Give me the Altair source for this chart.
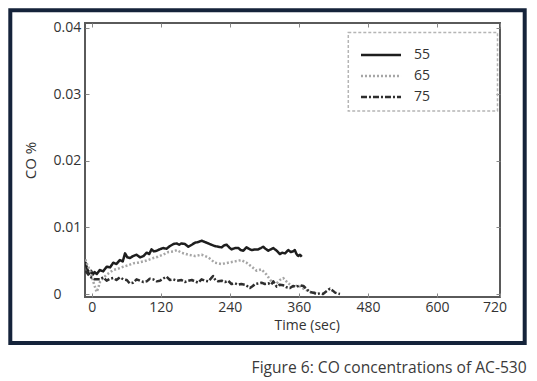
import altair as alt
import pandas as pd

# ---- data ----
series_names = ["55", "65", "75"]

t55 = [-11, -10, -7, -4, -1, 2, 5, 9, 14, 20, 26, 32, 37.5, 43, 49, 54, 58, 62, 66.5, 72,
       78, 84, 90, 95.6, 100, 104, 108, 113, 118, 124, 130, 136, 142, 147.7, 152, 156, 162, 168, 174, 179.5,
       185, 191, 197, 202.6, 208, 214, 220, 226, 230, 234.6, 239, 243, 249, 255, 259, 263.5, 269, 273, 278, 284,
       289.5, 294, 298, 302, 307, 311, 315.6, 321.5, 327, 331, 336, 341.7, 346, 350, 353, 356, 359, 362, 365]
v55 = [0.0048, 0.0044, 0.0036, 0.0031, 0.0035, 0.0029, 0.0033, 0.0030, 0.0036, 0.0034,
       0.0041, 0.0040, 0.0047, 0.0045, 0.0051, 0.0049, 0.0061, 0.0055, 0.0054, 0.0057,
       0.0059, 0.0055, 0.0057, 0.0062, 0.0060, 0.0067, 0.0064, 0.0065, 0.0067, 0.0069,
       0.0068, 0.0072, 0.0075, 0.0076, 0.0074, 0.0076, 0.0075, 0.0071, 0.0074, 0.0077,
       0.0078, 0.0080, 0.0078, 0.0076, 0.0074, 0.0072, 0.0071, 0.0070, 0.0073, 0.0074,
       0.0070, 0.0067, 0.0069, 0.0069, 0.0066, 0.0065, 0.0070, 0.0068, 0.0066, 0.0067,
       0.0067, 0.0069, 0.0071, 0.0068, 0.0065, 0.0067, 0.0069, 0.0065, 0.0060, 0.0062,
       0.0061, 0.0066, 0.0063, 0.0064, 0.0066, 0.0060, 0.0057, 0.0059, 0.0056]

t65 = [-11, -8, -3, 3, 6, 8.6, 11, 14.4, 20, 26, 37.5, 46, 55, 63, 72, 80, 90, 98, 107, 115,
       124, 133, 142, 148, 156, 168, 179.5, 191, 202.6, 214, 226, 237, 249, 260, 269, 278, 286.6, 295, 304, 313,
       321.5, 327, 333, 341.7, 350, 359, 368, 379, 391]
v65 = [0.0052, 0.0045, 0.0035, 0.0018, 0.0010, 0.0003, 0.0008, 0.0018, 0.0024, 0.0029,
       0.0036, 0.0038, 0.0041, 0.0043, 0.0046, 0.0047, 0.0049, 0.0051, 0.0054, 0.0056,
       0.0059, 0.0063, 0.0064, 0.0066, 0.0062, 0.0059, 0.0057, 0.0059, 0.0055, 0.0047,
       0.0045, 0.0047, 0.0049, 0.0051, 0.0047, 0.0041, 0.0035, 0.0037, 0.0029, 0.0018,
       0.0016, 0.0021, 0.0024, 0.0016, 0.0011, 0.0013, 0.0008, 0.0003, 0.0002]

t75 = [-11, -3, 5, 14.4, 20, 26, 32, 37.5, 43, 49, 55, 61, 66, 72, 78, 84, 90, 95.6, 101, 107,
       113, 118.5, 124, 130, 136, 142, 148, 156, 162, 168, 174, 179.5, 185, 191, 197, 202.6, 207, 211, 215, 220,
       226, 231.7, 237, 243, 249, 255, 260, 266, 270, 275, 280, 284, 290, 295, 301, 307, 312, 315.6, 321.5, 327,
       333, 339, 344.6, 350, 356, 362, 368, 374, 379, 385, 391, 397, 402, 408, 414, 419, 423, 427, 431.5]
v75 = [0.0035, 0.0026, 0.0022, 0.0022, 0.0025, 0.0020, 0.0023, 0.0024, 0.0021, 0.0025,
       0.0022, 0.0021, 0.0016, 0.0017, 0.0022, 0.0020, 0.0018, 0.0019, 0.0023, 0.0022,
       0.0019, 0.0020, 0.0023, 0.0026, 0.0021, 0.0022, 0.0020, 0.0021, 0.0018, 0.0020,
       0.0021, 0.0019, 0.0017, 0.0022, 0.0020, 0.0019, 0.0023, 0.0027, 0.0021, 0.0019,
       0.0020, 0.0018, 0.0020, 0.0015, 0.0016, 0.0014, 0.0015, 0.0014, 0.0012, 0.0009,
       0.0012, 0.0015, 0.0016, 0.0017, 0.0015, 0.0016, 0.0014, 0.0019, 0.0011, 0.0014,
       0.0013, 0.0010, 0.0009, 0.0012, 0.0011, 0.0013, 0.0012, 0.0007, 0.0003, 0.0002,
       0.0000, 0.0001, 0.0000, 0.0004, 0.0008, 0.0005, 0.0002, 0.0001, 0.0000]

# x tick labels 0..720; the last one sits just past the plot's right edge
x_domain = [-11.6, 709.6]
x_ticks = [0, 120, 240, 360, 480, 600, 709.6]
x_last_label = "720"
y_ticks = [0, 0.01, 0.02, 0.03, 0.04]
caption = "Figure 6: CO concentrations of AC-530"

frames = []
for name, ts, vs in zip(series_names, [t55, t65, t75], [v55, v65, v75]):
    frames.append(pd.DataFrame({"time": ts, "co": vs, "series": name}))
df = pd.concat(frames, ignore_index=True)

FONT = "Open Sans"
W, H = 415, 274

legend_cfg = dict(orient="none", legendX=288, legendY=24, title=None,
                  padding=0, symbolType="M-3,0H3", symbolSize=178,
                  symbolStrokeWidth=2.5, labelOffset=25,
                  labelFontSize=14, labelFont=FONT, labelColor="#333333",
                  rowPadding=6)

lines = alt.Chart(df).mark_line(clip=True, strokeJoin="round", strokeWidth=2.5).encode(
    x=alt.X("time:Q",
            scale=alt.Scale(domain=x_domain, nice=False, zero=False),
            axis=alt.Axis(values=x_ticks, title="Time (sec)", labelPadding=3,
                          labelExpr=f"datum.value > 700 ? '{x_last_label}' : format(datum.value, 'd')",
                          labelOffset={"condition": {"test": "datum.value > 700", "value": 6.4},
                                       "value": 0},
                          grid=True, gridDash=[4, H - 8, 4, 2000], gridColor="#888888",
                          gridWidth=1,
                          titleX=221.7, titleY=28.3, titleAlign="center",
                          titleBaseline="middle")),
    y=alt.Y("co:Q",
            scale=alt.Scale(domain=[-0.00045, 0.0407], nice=False, zero=False),
            axis=alt.Axis(values=y_ticks, title="CO %", labelAlign="left",
                          labelPadding=32, labelBaseline="middle",
                          labelExpr="datum.value == 0 ? '0' : format(datum.value, '.2f')",
                          grid=True, gridDash=[4, W - 8, 4, 2000], gridColor="#888888",
                          gridWidth=1,
                          titleX=-55, titleY=H / 2, titleAngle=270, titleFontSize=15,
                          titleAlign="center", titleBaseline="middle")),
    color=alt.Color("series:N",
                    scale=alt.Scale(domain=series_names,
                                    range=["#1e1e1e", "#a6a6a6", "#2e2e2e"]),
                    legend=alt.Legend(**legend_cfg)),
    strokeDash=alt.StrokeDash("series:N",
                              scale=alt.Scale(domain=series_names,
                                              range=[[1, 0], [2, 2], [6, 2, 2, 2]]),
                              legend=alt.Legend(**legend_cfg)),
)

one = alt.Data(values=[{}])

legend_box = alt.Chart(one).mark_rect(
    fill=None, stroke="#b5b5b5", strokeWidth=1.5, strokeDash=[3, 2], clip=False
).encode(x=alt.value(263.3), x2=alt.value(412.5), y=alt.value(9.5), y2=alt.value(88))

frame = alt.Chart(one).mark_rect(
    fill=None, stroke="#15233a", strokeWidth=4, clip=False
).encode(x=alt.value(-74.7), x2=alt.value(439.7), y=alt.value(-12.7), y2=alt.value(320))

cap = alt.Chart(one).mark_text(
    text=caption, font=FONT, fontSize=15.6, color="#3a3a3a",
    align="right", baseline="middle", clip=False
).encode(x=alt.value(441.7), y=alt.value(344.5))

chart = alt.layer(lines, legend_box, frame, cap).properties(
    width=W, height=H,
    background="white",
    autosize=alt.AutoSizeParams(type="none"),
    padding={"left": 77, "top": 15, "right": 29, "bottom": 80},
).configure_view(
    stroke="#5a5a5a", strokeWidth=2
).configure_axis(
    domain=False, ticks=False,
    labelFont=FONT, labelFontSize=14, labelColor="#333333",
    titleFont=FONT, titleFontSize=14, titleFontWeight="normal", titleColor="#333333",
)

chart.save("out.html", embed_options={"renderer": "svg", "actions": False})
